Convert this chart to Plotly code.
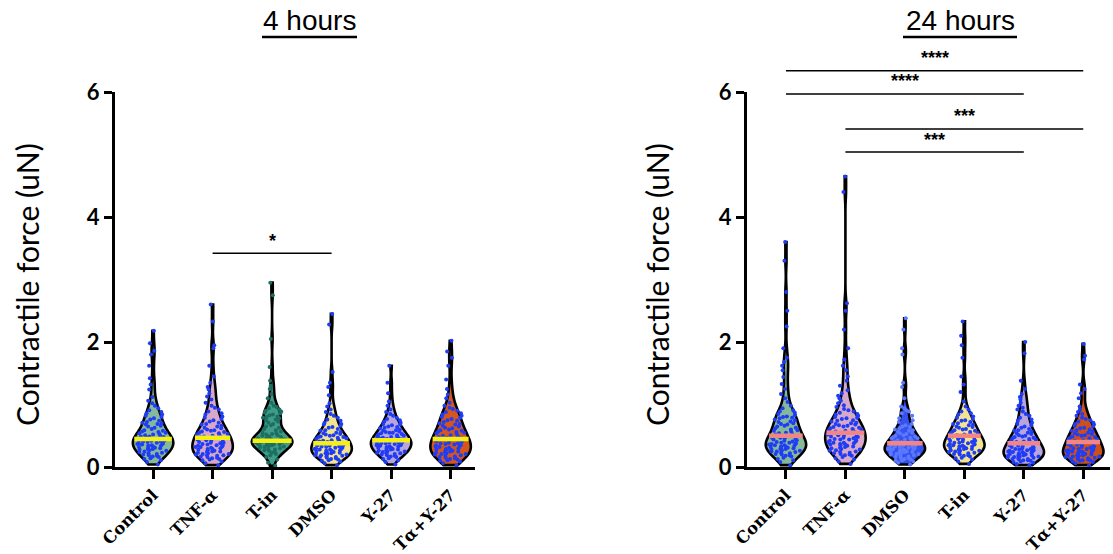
import numpy as np
import plotly.graph_objects as go

# ---------------- data ----------------
CATS_4H = ["Control", "TNF-α", "T-in", "DMSO", "Y-27", "Tα+Y-27"]
CATS_24H = ["Control", "TNF-α", "DMSO", "T-in", "Y-27", "Tα+Y-27"]
Y_TICKS = [0, 2, 4, 6]

H4_CONTROL = [0.04, 0.08,
              0.11, 0.13, 0.14, 0.16, 0.17, 0.18, 0.19,
              0.20, 0.21, 0.22, 0.23, 0.24, 0.25, 0.26, 0.27, 0.28, 0.29, 0.29,
              0.30, 0.31, 0.31, 0.32, 0.33, 0.34, 0.34, 0.35, 0.36, 0.37, 0.37, 0.38, 0.39, 0.39,
              0.40, 0.41, 0.41, 0.42, 0.43, 0.43, 0.44, 0.45, 0.46, 0.46, 0.47, 0.48, 0.49, 0.49,
              0.50, 0.51, 0.52, 0.53, 0.54, 0.55, 0.56, 0.57, 0.58, 0.59,
              0.61, 0.63, 0.65, 0.66, 0.68, 0.69,
              0.70, 0.71, 0.72, 0.74, 0.76, 0.78,
              0.80, 0.82, 0.84, 0.86, 0.88,
              0.91, 0.94, 0.98, 1.02, 1.06, 1.12, 1.24, 1.32, 1.42,
              1.62, 1.80, 1.86, 1.98, 2.18]
H4_TNF = [0.03, 0.06, 0.09,
          0.11, 0.12, 0.13, 0.14, 0.15, 0.16, 0.17, 0.18, 0.19, 0.19,
          0.20, 0.21, 0.21, 0.22, 0.23, 0.24, 0.25, 0.25, 0.26, 0.27, 0.28, 0.29, 0.29,
          0.30, 0.31, 0.32, 0.32, 0.33, 0.34, 0.35, 0.35, 0.36, 0.37, 0.38, 0.39, 0.39,
          0.40, 0.41, 0.42, 0.43, 0.44, 0.45, 0.46, 0.47, 0.48, 0.49, 0.49,
          0.50, 0.51, 0.52, 0.53, 0.54, 0.55, 0.56, 0.57, 0.58, 0.59,
          0.60, 0.62, 0.63, 0.65, 0.66, 0.68, 0.69,
          0.71, 0.73, 0.75, 0.77, 0.79,
          0.81, 0.84, 0.86, 0.89, 0.92, 0.95, 0.98,
          1.03, 1.08, 1.13, 1.18, 1.24, 1.28, 1.35, 1.45,
          1.62, 1.90, 1.95, 2.33, 2.60]
H4_TIN = [0.02, 0.07, 0.12, 0.16, 0.19,
          0.21, 0.23, 0.25, 0.26, 0.27, 0.28, 0.29,
          0.30, 0.31, 0.32, 0.33, 0.33, 0.34, 0.35, 0.35, 0.36, 0.36, 0.37, 0.37, 0.38, 0.38, 0.39, 0.39,
          0.40, 0.40, 0.41, 0.41, 0.41, 0.42, 0.42, 0.42, 0.43, 0.43, 0.44, 0.44, 0.45, 0.45, 0.46,
          0.46, 0.47, 0.48, 0.49,
          0.50, 0.51, 0.52, 0.53, 0.54, 0.55, 0.57, 0.59,
          0.61, 0.63, 0.65, 0.67, 0.69,
          0.71, 0.73, 0.75, 0.76, 0.78, 0.79,
          0.80, 0.81, 0.83, 0.84, 0.86, 0.87, 0.89,
          0.90, 0.92, 0.94, 0.96, 0.98,
          1.03, 1.10, 1.17, 1.25, 1.30, 1.38,
          1.60, 2.05, 2.75, 2.95]
H4_DMSO = [0.03, 0.06, 0.09,
           0.10, 0.11, 0.12, 0.13, 0.14, 0.15, 0.16, 0.16, 0.17, 0.18, 0.19, 0.19,
           0.20, 0.21, 0.21, 0.22, 0.22, 0.23, 0.24, 0.24, 0.25, 0.26, 0.26, 0.27, 0.28, 0.28, 0.29, 0.29,
           0.30, 0.31, 0.31, 0.32, 0.33, 0.33, 0.34, 0.35, 0.35, 0.36, 0.37, 0.37, 0.38, 0.39, 0.39,
           0.40, 0.41, 0.42, 0.42, 0.43, 0.44, 0.45, 0.46, 0.47, 0.48, 0.48, 0.49,
           0.50, 0.51, 0.52, 0.53, 0.54, 0.55, 0.56, 0.58, 0.59,
           0.61, 0.63, 0.64, 0.66, 0.68, 0.69,
           0.71, 0.74, 0.76, 0.79, 0.82, 0.85, 0.88, 0.92, 0.97,
           1.02, 1.15, 1.28, 1.35,
           1.52, 2.28, 2.45]
H4_Y27 = [0.04, 0.08,
          0.11, 0.13, 0.14, 0.16, 0.17, 0.18, 0.19,
          0.20, 0.21, 0.22, 0.22, 0.23, 0.24, 0.25, 0.25, 0.26, 0.27, 0.28, 0.28, 0.29,
          0.30, 0.31, 0.31, 0.32, 0.33, 0.33, 0.34, 0.35, 0.35, 0.36, 0.36, 0.37, 0.38, 0.38, 0.39, 0.39,
          0.40, 0.40, 0.41, 0.42, 0.42, 0.43, 0.44, 0.44, 0.45, 0.46, 0.46, 0.47, 0.48, 0.48, 0.49,
          0.50, 0.51, 0.52, 0.53, 0.54, 0.55, 0.55, 0.56, 0.57, 0.58, 0.59,
          0.60, 0.62, 0.63, 0.64, 0.65, 0.67, 0.68, 0.69,
          0.71, 0.73, 0.75, 0.77, 0.79,
          0.82, 0.85, 0.88, 0.92, 0.98, 1.05,
          1.18, 1.35, 1.62]
H4_TA_Y27 = [0.03, 0.06, 0.09,
             0.10, 0.11, 0.12, 0.13, 0.14, 0.15, 0.16, 0.17, 0.18, 0.19,
             0.20, 0.21, 0.21, 0.22, 0.23, 0.24, 0.25, 0.25, 0.26, 0.27, 0.28, 0.28, 0.29,
             0.30, 0.31, 0.32, 0.33, 0.34, 0.34, 0.35, 0.36, 0.37, 0.38, 0.38, 0.39,
             0.40, 0.41, 0.42, 0.43, 0.44, 0.45, 0.45, 0.46, 0.47, 0.48, 0.49,
             0.50, 0.51, 0.53, 0.54, 0.55, 0.56, 0.57, 0.58, 0.59,
             0.60, 0.62, 0.63, 0.65, 0.66, 0.68, 0.69,
             0.70, 0.72, 0.74, 0.75, 0.77, 0.79,
             0.80, 0.82, 0.84, 0.86, 0.88,
             0.90, 0.93, 0.95, 0.98,
             1.03, 1.10, 1.16, 1.25, 1.40,
             1.62, 1.75, 1.85, 2.02]

H24_CONTROL = [0.03, 0.08,
               0.11, 0.13, 0.15, 0.17, 0.18, 0.19,
               0.20, 0.21, 0.22, 0.23, 0.24, 0.25, 0.25, 0.26, 0.27, 0.28, 0.29, 0.29,
               0.30, 0.31, 0.31, 0.32, 0.33, 0.33, 0.34, 0.35, 0.35, 0.36, 0.37, 0.37, 0.38, 0.39, 0.39,
               0.40, 0.41, 0.42, 0.43, 0.44, 0.45, 0.46, 0.47, 0.47, 0.48, 0.49,
               0.50, 0.52, 0.53, 0.54, 0.55, 0.57, 0.58, 0.59,
               0.60, 0.62, 0.63, 0.65, 0.66, 0.68, 0.69,
               0.70, 0.72, 0.73, 0.75, 0.76, 0.78, 0.79,
               0.80, 0.81, 0.83, 0.85, 0.87, 0.89,
               0.91, 0.94, 0.98, 1.04, 1.10, 1.17, 1.25, 1.33, 1.44,
               1.55, 1.62, 1.68, 1.75,
               1.90, 2.25, 2.50, 2.80, 3.30, 3.60]
H24_TNF = [0.05, 0.09,
           0.12, 0.14, 0.16, 0.18, 0.19,
           0.20, 0.21, 0.22, 0.23, 0.24, 0.25, 0.26, 0.27, 0.28, 0.29,
           0.30, 0.31, 0.32, 0.33, 0.34, 0.35, 0.36, 0.36, 0.37, 0.38, 0.39, 0.39,
           0.40, 0.41, 0.42, 0.43, 0.44, 0.44, 0.45, 0.46, 0.47, 0.48, 0.49, 0.49,
           0.50, 0.51, 0.52, 0.53, 0.54, 0.55, 0.55, 0.56, 0.57, 0.58, 0.59, 0.59,
           0.60, 0.61, 0.62, 0.63, 0.64, 0.65, 0.66, 0.67, 0.68, 0.69,
           0.70, 0.71, 0.73, 0.74, 0.75, 0.77, 0.78, 0.79,
           0.80, 0.82, 0.84, 0.85, 0.87, 0.89,
           0.91, 0.93, 0.96, 0.99,
           1.02, 1.06, 1.10, 1.14, 1.18, 1.23, 1.30, 1.38, 1.45,
           1.55, 1.62, 1.72,
           1.90, 2.20, 2.50, 2.62, 4.40, 4.65]
H24_DMSO = [0.04, 0.07, 0.09,
            0.10, 0.11, 0.12, 0.13, 0.14, 0.15, 0.16, 0.17, 0.18, 0.19,
            0.20, 0.21, 0.21, 0.22, 0.22, 0.23, 0.24, 0.24, 0.25, 0.25, 0.26, 0.27, 0.27, 0.28, 0.28, 0.29,
            0.29,
            0.30, 0.30, 0.31, 0.31, 0.32, 0.33, 0.33, 0.34, 0.35, 0.35, 0.36, 0.36, 0.37, 0.38, 0.38, 0.39,
            0.40, 0.41, 0.42, 0.43, 0.44, 0.45, 0.46, 0.46, 0.47, 0.48, 0.49,
            0.50, 0.51, 0.53, 0.54, 0.55, 0.56, 0.58, 0.59,
            0.60, 0.62, 0.64, 0.65, 0.67, 0.69,
            0.72, 0.75, 0.78, 0.82, 0.86, 0.89, 0.91, 0.94, 0.97,
            1.10, 1.28, 1.35,
            1.80, 1.90, 2.20, 2.38]
H24_TIN = [0.05, 0.09,
           0.12, 0.14, 0.15, 0.17, 0.18, 0.19,
           0.20, 0.21, 0.22, 0.23, 0.23, 0.24, 0.25, 0.26, 0.26, 0.27, 0.28, 0.29, 0.29,
           0.30, 0.31, 0.31, 0.32, 0.33, 0.33, 0.34, 0.35, 0.35, 0.36, 0.37, 0.37, 0.38, 0.39, 0.39,
           0.40, 0.41, 0.42, 0.42, 0.43, 0.44, 0.45, 0.46, 0.46, 0.47, 0.48, 0.49,
           0.50, 0.51, 0.52, 0.53, 0.54, 0.55, 0.56, 0.57, 0.58, 0.59,
           0.60, 0.61, 0.63, 0.64, 0.65, 0.67, 0.68, 0.69,
           0.70, 0.72, 0.74, 0.75, 0.77, 0.79,
           0.81, 0.84, 0.86, 0.89, 0.92, 0.97,
           1.05, 1.20, 1.32, 1.45,
           1.75, 1.95, 2.10, 2.33]
H24_Y27 = [0.03, 0.05, 0.07, 0.08, 0.09,
           0.10, 0.11, 0.11, 0.12, 0.13, 0.13, 0.14, 0.15, 0.15, 0.16, 0.17, 0.17, 0.18, 0.18, 0.19, 0.19,
           0.20, 0.20, 0.21, 0.22, 0.22, 0.23, 0.24, 0.24, 0.25, 0.25, 0.26, 0.27, 0.27, 0.28, 0.29, 0.29,
           0.30, 0.31, 0.32, 0.33, 0.33, 0.34, 0.35, 0.36, 0.37, 0.38, 0.38, 0.39,
           0.40, 0.41, 0.42, 0.43, 0.44, 0.45, 0.46, 0.47, 0.48, 0.49,
           0.50, 0.51, 0.53, 0.54, 0.55, 0.57, 0.58, 0.59,
           0.61, 0.63, 0.65, 0.67, 0.69,
           0.71, 0.74, 0.76, 0.79,
           0.82, 0.85, 0.89, 0.92, 0.95, 0.98,
           1.03, 1.08, 1.12, 1.17,
           1.25, 1.38, 1.82, 2.00]
H24_TA_Y27 = [0.03, 0.06, 0.08, 0.09,
              0.10, 0.11, 0.11, 0.12, 0.13, 0.13, 0.14, 0.15, 0.15, 0.16, 0.17, 0.17, 0.18, 0.18, 0.19, 0.19,
              0.20, 0.21, 0.21, 0.22, 0.23, 0.23, 0.24, 0.25, 0.25, 0.26, 0.27, 0.27, 0.28, 0.29, 0.29,
              0.30, 0.31, 0.32, 0.33, 0.34, 0.34, 0.35, 0.36, 0.37, 0.38, 0.38, 0.39,
              0.40, 0.41, 0.42, 0.43, 0.44, 0.45, 0.45, 0.46, 0.47, 0.48, 0.49,
              0.50, 0.51, 0.52, 0.53, 0.54, 0.55, 0.57, 0.58, 0.59,
              0.60, 0.62, 0.63, 0.65, 0.66, 0.68, 0.69,
              0.71, 0.73, 0.75, 0.77, 0.79,
              0.82, 0.85, 0.88, 0.92, 0.97,
              1.10, 1.18, 1.25, 1.32,
              1.72, 1.78, 1.97]

DATA_4H = [H4_CONTROL, H4_TNF, H4_TIN, H4_DMSO, H4_Y27, H4_TA_Y27]
DATA_24H = [H24_CONTROL, H24_TNF, H24_DMSO, H24_TIN, H24_Y27, H24_TA_Y27]

MEDIANS_4H = [0.45, 0.47, 0.42, 0.38, 0.43, 0.45]
MEDIANS_24H = [0.50, 0.55, 0.38, 0.50, 0.38, 0.40]

# significance: (group index from, group index to, bar height in uN, label)
SIG_4H = [(1, 3, 3.42, "*")]
SIG_24H = [(0, 5, 6.34, "****"), (0, 4, 5.97, "****"), (1, 5, 5.41, "***"), (1, 4, 5.04, "***")]

# ---------------- styles ----------------
FILL_4H = ["#86b99a", "#d8a8c8", "#3f9c88", "#f2e490", "#b9a5de", "#d4561c"]
DOT_4H = ["#1f3df5", "#1f3df5", "#1d6f62", "#1f3df5", "#1f3df5", "#1f3df5"]
FILL_24H = ["#86b99a", "#d8a8c8", "#3552ee", "#f2e490", "#b9a5de", "#cc5018"]
DOT_24H = ["#1f3df5", "#1f3df5", "#5b78ff", "#1f3df5", "#1f3df5", "#1f3df5"]
MED_4H = "#f4f012"
MED_24H = "#f48585"
VW = 0.68  # violin width in category units
BW_FACTOR = 0.8

W, H = 1113, 554
Y0PX, Y6PX = 467, 92
YDOM = [(H - Y0PX) / H, (H - Y6PX) / H]
XDOM1 = [115 / W, 475 / W]
XDOM2 = [747 / W, 1110 / W]
XR1 = [-0.64, 5.41]
XR2 = [-0.655, 5.45]


def bandwidth(v):
    v = np.asarray(v, float)
    q1, q3 = np.percentile(v, [25, 75])
    sd = v.std()
    bw = 1.059 * min(sd, (q3 - q1) / 1.349) * len(v) ** (-0.2)
    return max(bw, (v.max() - v.min()) / 100) * BW_FACTOR


def halfwidth(v, bw, y):
    v = np.asarray(v, float)
    grid = np.linspace(v.min(), v.max(), 600)

    def dens(t):
        t = np.atleast_1d(t)
        return np.exp(-0.5 * ((t[:, None] - v[None, :]) / bw) ** 2).sum(1)
    return VW / 2 * dens(y)[0] / dens(grid).max()


def yp(val):
    return YDOM[0] + val / 6 * (YDOM[1] - YDOM[0])


fig = go.Figure()

for panel, (data, fills, dots, meds, medc) in enumerate([
        (DATA_4H, FILL_4H, DOT_4H, MEDIANS_4H, MED_4H),
        (DATA_24H, FILL_24H, DOT_24H, MEDIANS_24H, MED_24H)]):
    xa = "x" if panel == 0 else "x2"
    ya = "y" if panel == 0 else "y2"
    for i, vals in enumerate(data):
        bw = bandwidth(vals)
        fig.add_trace(go.Violin(
            x=[i] * len(vals), y=vals, xaxis=xa, yaxis=ya,
            width=VW, bandwidth=bw, spanmode="hard", scalemode="width",
            fillcolor=fills[i], opacity=1,
            line=dict(color="black", width=2.6),
            points="all", pointpos=0, jitter=0.9,
            marker=dict(color=dots[i], size=4, line=dict(width=0)),
            box_visible=False, meanline_visible=False,
            showlegend=False, hoverinfo="skip"))
        hw = halfwidth(vals, bw, meds[i]) * 0.97
        fig.add_trace(go.Scatter(
            x=[i - hw, i + hw], y=[meds[i], meds[i]], mode="lines",
            line=dict(color=medc, width=4.5), xaxis=xa, yaxis=ya,
            showlegend=False, hoverinfo="skip"))

axis_common = dict(showgrid=False, zeroline=False, showline=True, linecolor="black",
                   linewidth=3, ticks="outside", tickwidth=2.5, tickcolor="black",
                   automargin=False)
xfont = dict(family="DejaVu Serif", size=16.5, color="black", weight="bold")
yfont = dict(family="Lato", size=22, color="black", weight="bold")
fig.update_layout(
    width=W, height=H, margin=dict(l=0, r=0, t=0, b=0, autoexpand=False),
    paper_bgcolor="white", plot_bgcolor="white", violinmode="overlay",
    xaxis=dict(domain=XDOM1, range=XR1, anchor="y", tickvals=list(range(6)), ticktext=CATS_4H,
               ticklen=9, tickangle=-45, tickfont=xfont, **axis_common),
    yaxis=dict(domain=YDOM, range=[0, 6], anchor="x", tickvals=Y_TICKS, ticklen=8,
               tickfont=yfont, **axis_common),
    xaxis2=dict(domain=XDOM2, range=XR2, anchor="y2", tickvals=list(range(6)), ticktext=CATS_24H,
                ticklen=9, tickangle=-45, tickfont=xfont, **axis_common),
    yaxis2=dict(domain=YDOM, range=[0, 6], anchor="x2", tickvals=Y_TICKS, ticklen=8,
                tickfont=yfont, **axis_common),
)

ann = []
shapes = []
# titles with underline
for txt, cx, x0, x1 in [("4 hours", 309.5, 262, 357), ("24 hours", 960, 903, 1017)]:
    ann.append(dict(text=txt, x=cx / W, y=(H - 21) / H, xref="paper", yref="paper",
                    showarrow=False, xanchor="center", yanchor="middle",
                    font=dict(family="Liberation Sans", size=28, color="black")))
    shapes.append(dict(type="line", xref="paper", yref="paper", x0=x0 / W, x1=x1 / W,
                       y0=(H - 37) / H, y1=(H - 37) / H, line=dict(color="black", width=2.5)))
# y-axis titles
for cx in [27, 657]:
    ann.append(dict(text="Contractile force (uN)", x=cx / W, y=(H - 285) / H, xref="paper",
                    yref="paper", showarrow=False, textangle=-90, xanchor="center",
                    yanchor="middle", font=dict(family="Lato", size=30, color="black")))
# significance bars
for xr, sigs in [("x", SIG_4H), ("x2", SIG_24H)]:
    for a, b, h, lab in sigs:
        shapes.append(dict(type="line", xref=xr, yref="paper", x0=a, x1=b, y0=yp(h), y1=yp(h),
                           line=dict(color="black", width=1.5)))
        ann.append(dict(text=lab, x=(a + b) / 2, y=yp(h + 0.2), xref=xr, yref="paper",
                        showarrow=False, xanchor="center", yanchor="middle",
                        font=dict(family="Liberation Sans", size=18, color="black", weight="bold")))

fig.update_layout(annotations=ann, shapes=shapes)
fig.write_html("out.html")
